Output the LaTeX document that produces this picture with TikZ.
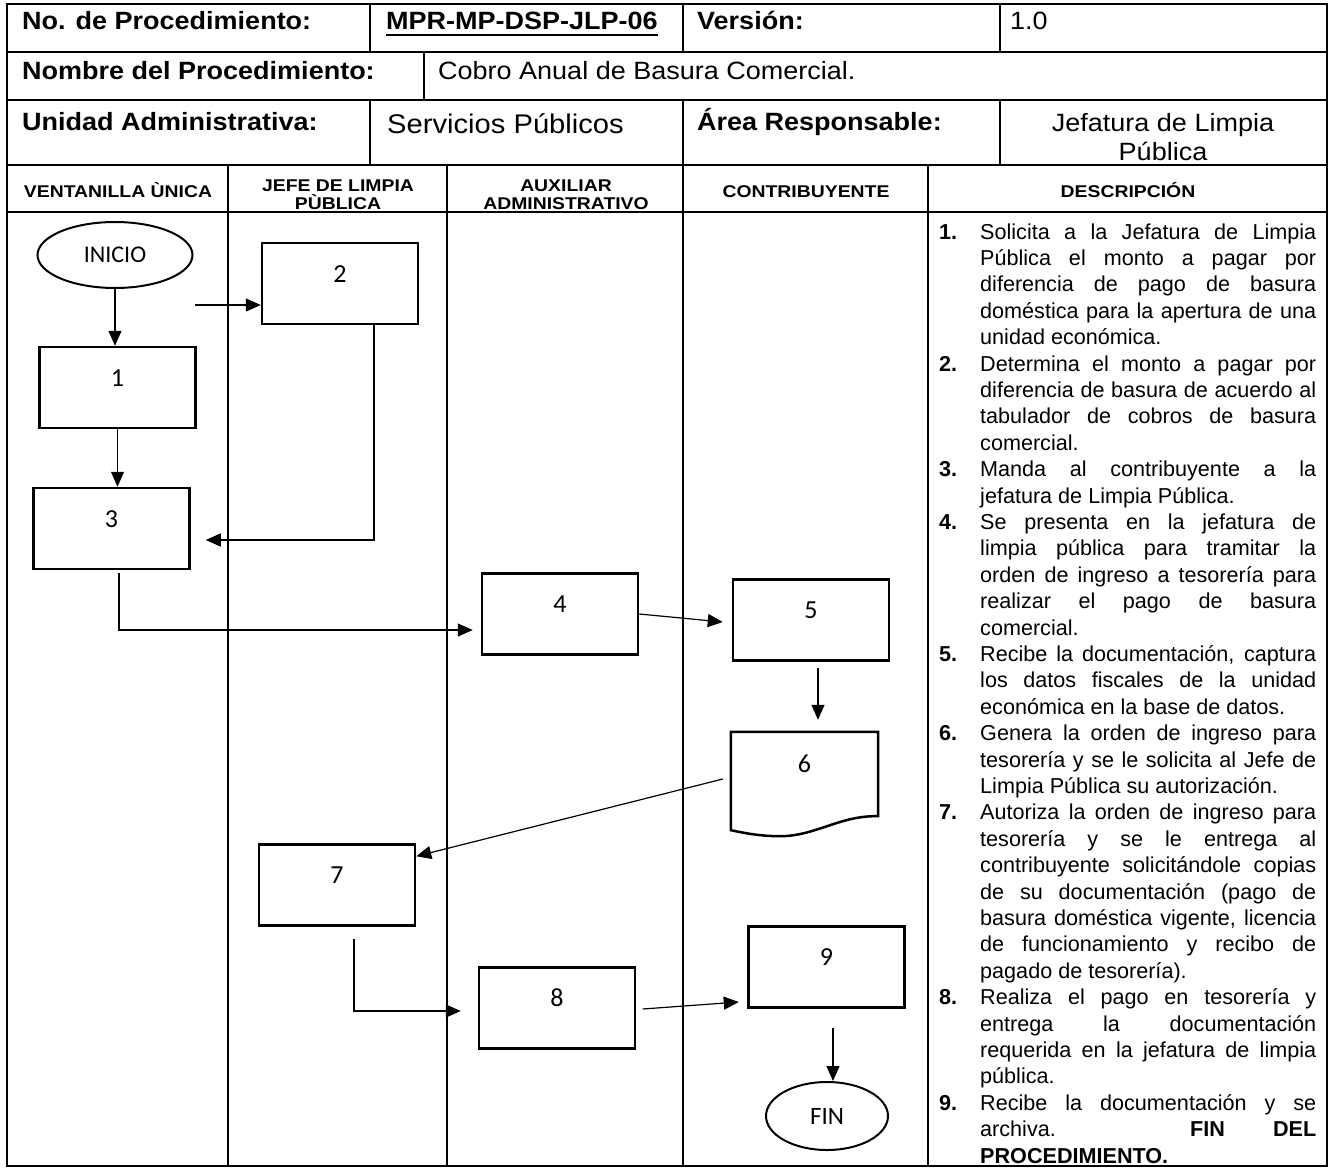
\documentclass[tikz,border=0pt]{standalone}
\usepackage{fontspec}
\setmainfont{Liberation Sans}
\newfontfamily\flowfont{Carlito}
\newfontfamily\tblfont{Liberation Sans}[FakeStretch=1.08]
\newfontfamily\hdrfont{Liberation Sans}[FakeStretch=1.14]
\usetikzlibrary{arrows.meta,shapes.geometric}
\newlength\descw
\setlength\descw{336pt}
\newcommand\fline[2]{\makebox[41pt][l]{\textbf{#1}}\makebox[\descw][s]{#2}\\}
\newcommand\jline[1]{\hspace*{41pt}\makebox[\descw][s]{#1}\\}
\newcommand\lline[1]{\hspace*{41pt}#1\\}
\begin{document}
\begin{tikzpicture}[x=1pt,y=-1pt,
  tline/.style={line width=1.4pt},
  conn/.style={line width=1.2pt,-{Triangle[length=15pt,width=13pt]}},
  pbox/.style={draw,line width=2.5pt,minimum width=156pt,minimum height=81pt,inner sep=0pt,
    text height=39pt,text depth=42pt,font=\flowfont\fontsize{26pt}{30pt}\selectfont},
  termnode/.style={draw,ellipse,line width=2pt,inner sep=0pt,font=\flowfont\fontsize{24pt}{28pt}\selectfont},
  tlabel/.style={inner sep=0pt,anchor=base west,font=\tblfont\bfseries\fontsize{25pt}{30pt}\selectfont},
  tvalue/.style={inner sep=0pt,anchor=base west,font=\tblfont\fontsize{25pt}{30pt}\selectfont},
  hlabel/.style={inner sep=0pt,anchor=base,font=\hdrfont\bfseries\fontsize{17pt}{20pt}\selectfont}]
\useasboundingbox (0,0) rectangle (1332,1169);
\fill[white] (0,0) rectangle (1332,1169);

% ---------- table frame ----------
\draw[line width=2pt] (7,4) rectangle (1327,1166);
\draw[tline] (7,52) -- (1327,52);
\draw[tline] (7,100) -- (1327,100);
\draw[tline] (7,165) -- (1327,165);
\draw[tline] (7,212) -- (1327,212);
% row 1
\draw[tline] (370,4) -- (370,52);
\draw[tline] (683,4) -- (683,52);
\draw[tline] (1000,4) -- (1000,52);
% row 2
\draw[tline] (424,52) -- (424,100);
% row 3
\draw[tline] (370,100) -- (370,165);
\draw[tline] (683,100) -- (683,165);
\draw[tline] (1000,100) -- (1000,165);
% lanes
\draw[tline] (228,165) -- (228,1166);
\draw[tline] (447,165) -- (447,1166);
\draw[tline] (683,165) -- (683,1166);
\draw[tline] (928,165) -- (928,1166);

% ---------- table texts ----------
\node[tlabel] (t1) at (22,30) {No. de Procedimiento:};
\node[tlabel,anchor=base] (mpr) at (522,30) {MPR-MP-DSP-JLP-06};
\draw[line width=1.6pt] ([yshift=-5pt]mpr.base west) -- ([yshift=-5pt]mpr.base east);
\node[tlabel] (t2) at (697,30) {Versión:};
\node[tvalue] (t3) at (1010,30) {1.0};
\node[tlabel] (t4) at (22,80) {Nombre del Procedimiento:};
\node[tvalue] (t5) at (438,80) {Cobro Anual de Basura Comercial.};
\node[tlabel] (t6) at (22,131) {Unidad Administrativa:};
\node[tvalue,font=\tblfont\fontsize{27pt}{32pt}\selectfont] (t7) at (387,134) {Servicios Públicos};
\node[tlabel] (t8) at (697,131) {Área Responsable:};
\node[tvalue,anchor=base] (t9) at (1163,132) {Jefatura de Limpia};
\node[tvalue,anchor=base] (t10) at (1163,161) {Pública};

\node[hlabel] (h1) at (118,197) {VENTANILLA ÙNICA};
\node[hlabel] (h2a) at (338,191) {JEFE DE LIMPIA};
\node[hlabel] (h2b) at (338,209) {PÙBLICA};
\node[hlabel] (h3a) at (566,191) {AUXILIAR};
\node[hlabel] (h3b) at (566,209) {ADMINISTRATIVO};
\node[hlabel] (h4) at (806,197) {CONTRIBUYENTE};
\node[hlabel] (h5) at (1128,197) {DESCRIPCIÓN};

% ---------- flow nodes ----------
\node[termnode,minimum width=155pt,minimum height=66pt] (inicio) at (115,255) {INICIO};
\node[pbox] (b1) at (117.5,387.5) {1};
\node[pbox] (b2) at (340,283.5) {2};
\node[pbox] (b3) at (111.5,528.5) {3};
\node[pbox] (b4) at (560,614) {4};
\node[pbox] (b5) at (811,620) {5};
\node[inner sep=0pt,minimum width=147pt,minimum height=98pt,text height=40pt,text depth=58pt,
  font=\flowfont\fontsize{26pt}{30pt}\selectfont] (d6) at (804.5,781) {6};
\draw[line width=2.5pt,line join=miter] (d6.south west) -- (d6.north west) -- (d6.north east)
  -- ([yshift=14pt]d6.south east)
  .. controls ([xshift=-38pt,yshift=15pt]d6.south east) and ([xshift=-63pt,yshift=-6pt]d6.south east)
  .. ([xshift=-98pt,yshift=-6pt]d6.south east)
  .. controls ([xshift=-118pt,yshift=-6pt]d6.south east) and ([xshift=-133pt,yshift=-3pt]d6.south east)
  .. (d6.south west) -- cycle;
\node[pbox] (b7) at (337,885) {7};
\node[pbox] (b8) at (557,1008) {8};
\node[pbox] (b9) at (826.5,967) {9};
\node[termnode,minimum width=122pt,minimum height=68pt,font=\flowfont\fontsize{25pt}{29pt}\selectfont] (fin) at (827,1116) {FIN};

% ---------- connectors ----------
\coordinate (c0) at (195,305);
\draw[conn] (inicio.south) -- (inicio.south |- b1.north);
\draw[conn] (c0) -- (c0 -| b2.west);
\draw[conn] (b1.south) -- (b1.south |- b3.north);
\draw[conn] ([xshift=34pt]b2.south) |- ([xshift=15pt,yshift=-11.5pt]b3.east);
\draw[conn] ([xshift=7.5pt,yshift=-3pt]b3.south) |- ([xshift=-8pt,yshift=-16pt]b4.west);
\draw[conn] (b4.east) -- ([xshift=-9pt,yshift=-2pt]b5.west);
\draw[conn] ([xshift=7pt,yshift=-6pt]b5.south) -- ([xshift=13.5pt,yshift=12pt]d6.north);
\draw[conn] ([xshift=-8pt,yshift=2pt]d6.west) -- ([yshift=-13pt]b7.north east);
\draw[conn] ([xshift=17pt,yshift=-12pt]b7.south) |- ([xshift=-17pt,yshift=-3pt]b8.west);
\draw[conn] ([xshift=6.5pt,yshift=-1pt]b8.east) -- ([xshift=-8.5pt,yshift=-35pt]b9.west);
\draw[conn] ([xshift=6.5pt,yshift=-19pt]b9.south) -- ([xshift=6pt]fin.north);

% ---------- description ----------
\node[anchor=base west,inner sep=0pt] (desc) at (939,239) {\begin{minipage}[t]{380pt}\fontsize{21.6pt}{26.4pt}\selectfont\lineskiplimit=-20pt\parindent=0pt
\fline{1.}{Solicita a la Jefatura de Limpia}
\jline{Pública el monto a pagar por}
\jline{diferencia de pago de basura}
\jline{doméstica para la apertura de una}
\lline{unidad económica.}
\fline{2.}{Determina el monto a pagar por}
\jline{diferencia de basura de acuerdo al}
\jline{tabulador de cobros de basura}
\lline{comercial.}
\fline{3.}{Manda al contribuyente a la}
\lline{jefatura de Limpia Pública.}
\fline{4.}{Se presenta en la jefatura de}
\jline{limpia pública para tramitar la}
\jline{orden de ingreso a tesorería para}
\jline{realizar el pago de basura}
\lline{comercial.}
\fline{5.}{Recibe la documentación, captura}
\jline{los datos fiscales de la unidad}
\lline{económica en la base de datos.}
\fline{6.}{Genera la orden de ingreso para}
\jline{tesorería y se le solicita al Jefe de}
\lline{Limpia Pública su autorización.}
\fline{7.}{Autoriza la orden de ingreso para}
\jline{tesorería y se le entrega al}
\jline{contribuyente solicitándole copias}
\jline{de su documentación (pago de}
\jline{basura doméstica vigente, licencia}
\jline{de funcionamiento y recibo de}
\lline{pagado de tesorería).}
\fline{8.}{Realiza el pago en tesorería y}
\jline{entrega la documentación}
\jline{requerida en la jefatura de limpia}
\lline{pública.}
\fline{9.}{Recibe la documentación y se}
\jline{archiva. \textbf{FIN} \textbf{DEL}}
\hspace*{41pt}\textbf{PROCEDIMIENTO.}
\end{minipage}};
\end{tikzpicture}
\end{document}
